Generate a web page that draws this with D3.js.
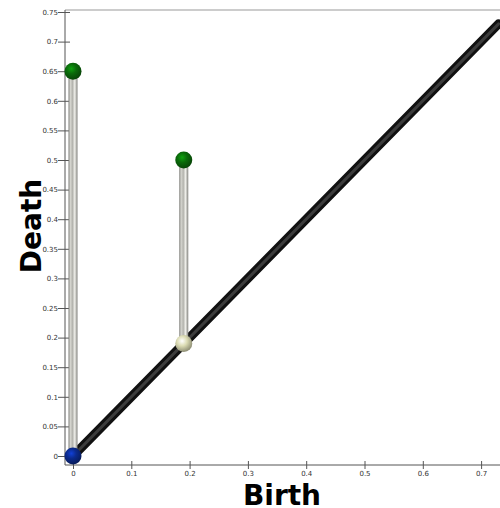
<!DOCTYPE html>
<html>
<head>
<meta charset="utf-8">
<script src="https://cdn.jsdelivr.net/npm/d3@7"></script>
<style>
  body { margin: 0; background: #fff; }
  svg { display: block; }
  .axis text { font-family: 'DejaVu Sans', sans-serif; font-size: 7px; fill: #333; }
  .axis line { stroke: #555; stroke-width: 1; }
  .title { font-family: 'DejaVu Sans', sans-serif; font-weight: bold; font-size: 28px; fill: #000; }
</style>
</head>
<body>
<div id="chart"></div>
<script>
// persistence pairs
var births = [0, 0.19];
var deaths = [0.65, 0.5];
var birthColors = ['#0b2a8c', '#dcdcb4'];
var deathColor = '#0a6a0a';
var yTicks = [0, 0.05, 0.1, 0.15, 0.2, 0.25, 0.3, 0.35, 0.4, 0.45, 0.5, 0.55, 0.6, 0.65, 0.7, 0.75];
var xTicks = [0, 0.1, 0.2, 0.3, 0.4, 0.5, 0.6, 0.7];
var diagMax = 0.73;

var width = 500, height = 508;

var svg = d3.select('#chart').append('svg')
    .attr('width', width)
    .attr('height', height);

var x = d3.scaleLinear().domain([0, 0.75]).range([73, 510.25]);
var y = d3.scaleLinear().domain([0, 0.75]).range([456, 12]);

var frameLeft = 65, frameBottom = 465, frameTop = 10;

var defs = svg.append('defs');

var addBall = function (id, base) {
  var c = d3.color(base);
  var g = defs.append('radialGradient')
      .attr('id', id)
      .attr('cx', '40%').attr('cy', '35%').attr('r', '65%');
  g.append('stop').attr('offset', '0%').attr('stop-color', c.brighter(1.2));
  g.append('stop').attr('offset', '45%').attr('stop-color', c);
  g.append('stop').attr('offset', '100%').attr('stop-color', c.darker(1.2));
}
birthColors.forEach(function (col, i) { addBall('ball-b' + i, col); });
addBall('ball-d', deathColor);

var bar = defs.append('linearGradient').attr('id', 'bar')
    .attr('x1', '0%').attr('x2', '100%').attr('y1', '0%').attr('y2', '0%');
[['0%', '#7c7c78'], ['20%', '#d6d6d0'], ['45%', '#b4b4ae'], ['70%', '#efefea'], ['100%', '#80807c']]
  .forEach(function (s) { bar.append('stop').attr('offset', s[0]).attr('stop-color', s[1]); });

// frame
svg.append('line')
    .attr('x1', frameLeft).attr('x2', width)
    .attr('y1', frameTop).attr('y2', frameTop)
    .style('stroke', '#999').style('stroke-width', 1.2);
svg.append('line')
    .attr('x1', frameLeft).attr('x2', frameLeft)
    .attr('y1', frameTop).attr('y2', frameBottom)
    .style('stroke', '#555');
svg.append('line')
    .attr('x1', frameLeft).attr('x2', width)
    .attr('y1', frameBottom).attr('y2', frameBottom)
    .style('stroke', '#555');

var yAxis = d3.axisLeft(y).tickValues(yTicks).tickFormat(d3.format('')).tickSize(6);
var gy = svg.append('g').attr('class', 'axis')
    .attr('transform', 'translate(' + frameLeft + ',0)')
    .call(yAxis);
gy.select('.domain').remove();
gy.selectAll('.tick line').attr('x1', 5).attr('x2', -7);
gy.selectAll('.tick text').attr('x', -7);

var xAxis = d3.axisBottom(x).tickValues(xTicks).tickFormat(d3.format('')).tickSize(4);
var gx = svg.append('g').attr('class', 'axis')
    .attr('transform', 'translate(0,' + frameBottom + ')')
    .call(xAxis);
gx.select('.domain').remove();
gx.selectAll('.tick line').attr('y1', -4).attr('y2', 4);
gx.selectAll('.tick text').attr('y', 6);

// diagonal
svg.append('line')
    .attr('x1', x(0)).attr('y1', y(0))
    .attr('x2', x(diagMax)).attr('y2', y(diagMax))
    .style('stroke', '#111').style('stroke-width', 9).style('stroke-linecap', 'round');
svg.append('line')
    .attr('x1', x(0)).attr('y1', y(0))
    .attr('x2', x(diagMax)).attr('y2', y(diagMax))
    .style('stroke', '#3c3c3c').style('stroke-width', 3).style('stroke-linecap', 'round');

// bars
svg.selectAll('.bar')
    .data(births)
    .enter()
    .append('rect')
    .attr('class', 'bar')
    .attr('x', function (d) { return x(d) - 4.5; })
    .attr('width', 9)
    .attr('y', function (d, i) { return y(deaths[i]); })
    .attr('height', function (d, i) { return y(d) - y(deaths[i]); })
    .style('fill', 'url(#bar)');

// balls
svg.selectAll('.death')
    .data(births)
    .enter()
    .append('circle')
    .attr('class', 'death')
    .attr('cx', function (d) { return x(d); })
    .attr('cy', function (d, i) { return y(deaths[i]); })
    .attr('r', 8.5)
    .style('fill', 'url(#ball-d)');

svg.selectAll('.birth')
    .data(births)
    .enter()
    .append('circle')
    .attr('class', 'birth')
    .attr('cx', function (d) { return x(d); })
    .attr('cy', function (d) { return y(d); })
    .attr('r', 8.5)
    .style('fill', function (d, i) { return 'url(#ball-b' + i + ')'; });

// titles
svg.append('text')
    .attr('class', 'title')
    .attr('x', 282).attr('y', 505)
    .attr('text-anchor', 'middle')
    .text('Birth');

svg.append('text')
    .attr('class', 'title')
    .attr('transform', 'translate(41,226) rotate(-90)')
    .attr('text-anchor', 'middle')
    .text('Death');
</script>
</body>
</html>
